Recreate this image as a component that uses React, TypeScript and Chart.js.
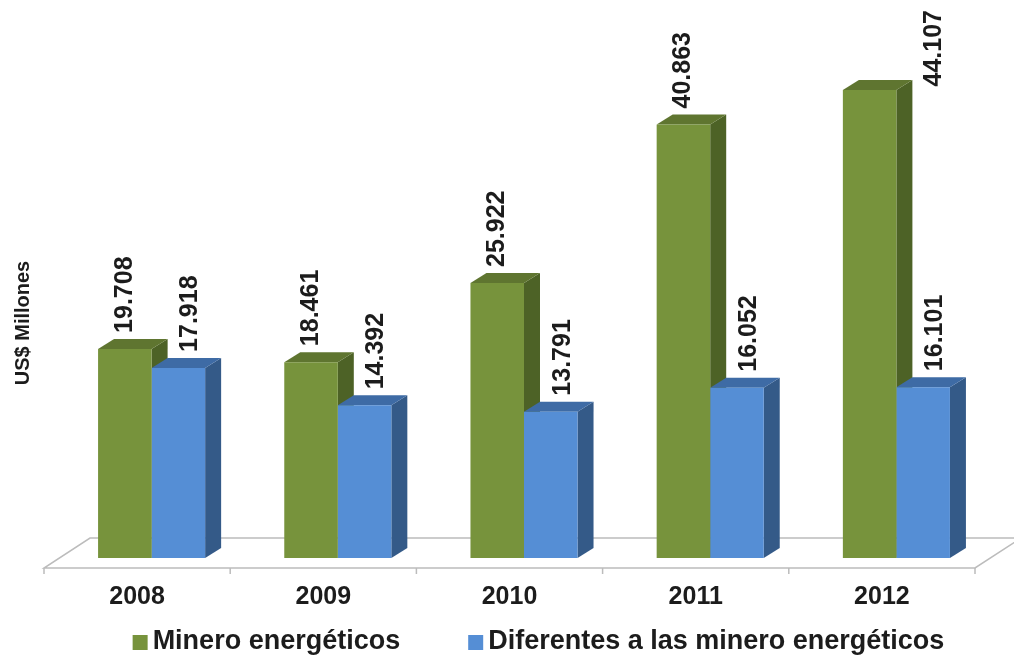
import React, { useEffect, useRef } from 'react';
import { Chart, registerables } from 'chart.js';

Chart.register(...registerables);

const categories = ['2008', '2009', '2010', '2011', '2012'];
const mineroEnergeticos = [19.708, 18.461, 25.922, 40.863, 44.107];
const diferentesMinero = [17.918, 14.392, 13.791, 16.052, 16.101];
const seriesNames = ['Minero energéticos', 'Diferentes a las minero energéticos'];
const yAxisTitle = 'US$ Millones';

const FRONT = ['#77933C', '#558ED5'];
const TOP = ['#5F7530', '#3E6BA5'];
const SIDE = ['#4D6226', '#345A88'];
const TEXT = '#1c1c1c';
const FONT = '"Liberation Sans", Arial, Helvetica, sans-serif';

const DX = 16;
const DY = 10;
const FLOOR_SHIFT_X = 14.5;
const FLOOR_SHIFT_Y = 10;
const FLOOR_DX = 46;
const FLOOR_DY = 30;

const threeD = {
  id: 'threeD',
  beforeDatasetsDraw(chart: any) {
    const { ctx, chartArea } = chart;
    const fy = chartArea.bottom + FLOOR_SHIFT_Y;
    const fl = chartArea.left - FLOOR_SHIFT_X;
    const fr = chartArea.right - FLOOR_SHIFT_X;
    ctx.save();
    ctx.beginPath();
    ctx.moveTo(fl, fy);
    ctx.lineTo(fr, fy);
    ctx.lineTo(fr + FLOOR_DX, fy - FLOOR_DY);
    ctx.lineTo(fl + FLOOR_DX, fy - FLOOR_DY);
    ctx.closePath();
    ctx.fillStyle = '#ffffff';
    ctx.fill();
    ctx.strokeStyle = '#bcbcbc';
    ctx.lineWidth = 1.5;
    ctx.stroke();
    const n = categories.length;
    const step = (fr - fl) / n;
    ctx.beginPath();
    for (let i = 0; i <= n; i++) {
      const tx = fl + i * step;
      ctx.moveTo(tx, fy);
      ctx.lineTo(tx, fy + 6);
    }
    ctx.stroke();

    chart.data.datasets.forEach((_ds: any, di: number) => {
      const meta = chart.getDatasetMeta(di);
      meta.data.forEach((bar: any) => {
        const { x: cx, y: top, base, width } = bar.getProps(['x', 'y', 'base', 'width'], true);
        const l = cx - width / 2;
        const r = cx + width / 2;
        ctx.beginPath();
        ctx.moveTo(r, top);
        ctx.lineTo(r + DX, top - DY);
        ctx.lineTo(r + DX, base - DY);
        ctx.lineTo(r, base);
        ctx.closePath();
        ctx.fillStyle = SIDE[di];
        ctx.fill();
        ctx.beginPath();
        ctx.moveTo(l, top);
        ctx.lineTo(l + DX, top - DY);
        ctx.lineTo(r + DX, top - DY);
        ctx.lineTo(r, top);
        ctx.closePath();
        ctx.fillStyle = TOP[di];
        ctx.fill();
      });
    });
    ctx.restore();
  },
  afterDraw(chart: any) {
    const { ctx } = chart;
    ctx.save();
    // value labels
    ctx.font = `bold 25px ${FONT}`;
    ctx.fillStyle = TEXT;
    ctx.textBaseline = 'middle';
    ctx.textAlign = 'left';
    chart.data.datasets.forEach((ds: any, di: number) => {
      const meta = chart.getDatasetMeta(di);
      meta.data.forEach((bar: any, i: number) => {
        const { x: cx, y: top, width } = bar.getProps(['x', 'y', 'width'], true);
        const txt = ds.data[i].toFixed(3);
        const tw = ctx.measureText(txt).width;
        let lx = cx + (di === 1 ? 12 : 0);
        let by = top - DY - 6;
        if (by - tw < 8) {
          lx = cx + width / 2 + DX + 22;
          by = 10 + tw;
        }
        ctx.save();
        ctx.translate(lx, by);
        ctx.rotate(-Math.PI / 2);
        ctx.fillText(txt, 0, 0);
        ctx.restore();
      });
    });

    // y axis title
    ctx.font = `bold 20px ${FONT}`;
    ctx.textAlign = 'center';
    ctx.textBaseline = 'middle';
    ctx.save();
    ctx.translate(23, 323);
    ctx.rotate(-Math.PI / 2);
    ctx.fillText(yAxisTitle, 0, 0);
    ctx.restore();

    // legend
    ctx.font = `bold 27px ${FONT}`;
    ctx.textAlign = 'left';
    ctx.textBaseline = 'alphabetic';
    const box = 15;
    const gap = 5;
    const itemGap = 68;
    const widths = seriesNames.map((s) => box + gap + ctx.measureText(s).width);
    const total = widths[0] + itemGap + widths[1];
    let x = 538.5 - total / 2;
    const baseY = 649;
    seriesNames.forEach((s, i) => {
      ctx.fillStyle = FRONT[i];
      ctx.fillRect(x, baseY - 14, box, box);
      ctx.fillStyle = TEXT;
      ctx.fillText(s, x + box + gap, baseY);
      x += widths[i] + itemGap;
    });
    ctx.restore();
  },
};

export default function App() {
  const ref = useRef<HTMLCanvasElement | null>(null);
  useEffect(() => {
    if (!ref.current) return;
    const chart = new Chart(ref.current, {
      type: 'bar',
      data: {
        labels: categories,
        datasets: [
          { label: seriesNames[0], data: mineroEnergeticos, backgroundColor: FRONT[0], borderWidth: 0 },
          { label: seriesNames[1], data: diferentesMinero, backgroundColor: FRONT[1], borderWidth: 0 },
        ],
      },
      options: {
        responsive: false,
        animation: false,
        events: [],
        layout: { padding: { left: 58.5, right: 24.5, top: 27.5, bottom: 50 } },
        datasets: { bar: { categoryPercentage: 0.575, barPercentage: 1.0 } },
        plugins: { legend: { display: false }, tooltip: { enabled: false }, title: { display: false } },
        scales: {
          x: {
            grid: { display: false, drawTicks: false },
            border: { display: false },
            ticks: {
              labelOffset: -FLOOR_SHIFT_X,
              padding: 24,
              color: TEXT,
              font: { family: FONT, size: 25, weight: 'bold' },
              maxRotation: 0,
              autoSkip: false,
            },
            afterFit: (scale: any) => {
              scale.height = 50;
            },
          },
          y: { display: false, min: 0, max: 50 },
        },
      },
      plugins: [threeD],
    });
    return () => chart.destroy();
  }, []);
  return (
    <div style={{ position: 'fixed', left: 0, top: 0, width: 1014, height: 658, background: '#fff' }}>
      <canvas ref={ref} width={1014} height={658} style={{ display: 'block', width: 1014, height: 658 }} />
    </div>
  );
}
